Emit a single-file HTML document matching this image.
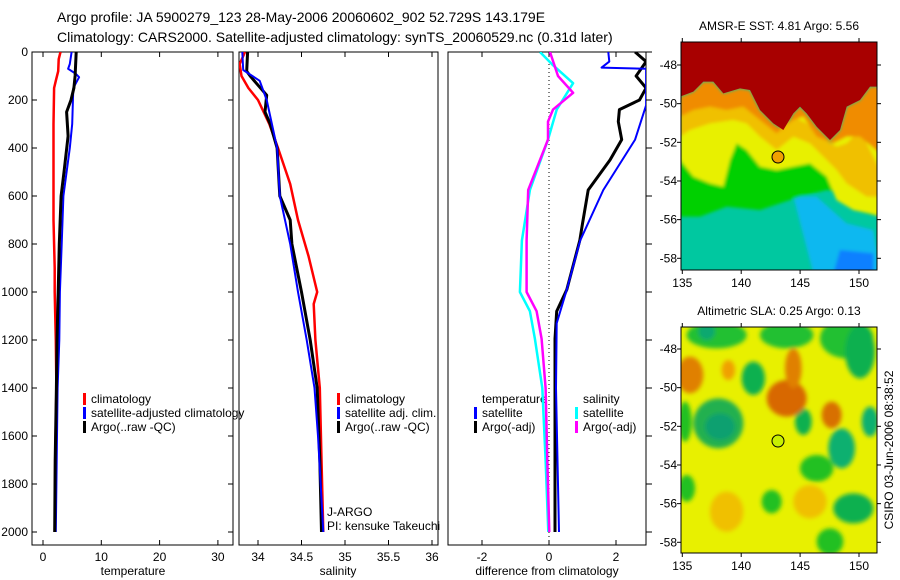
<!DOCTYPE html>
<html><head><meta charset="utf-8"><style>
body{margin:0;background:#fff;}
svg{display:block;font-family:"Liberation Sans",sans-serif;}
</style></head><body>
<svg id="fig" width="900" height="580" viewBox="0 0 900 580" xmlns="http://www.w3.org/2000/svg">
<defs>
<filter id="bl" x="-20%" y="-20%" width="140%" height="140%"><feGaussianBlur stdDeviation="6"/></filter>
<filter id="bl2" x="-5%" y="-5%" width="110%" height="110%"><feGaussianBlur stdDeviation="5"/></filter>
<clipPath id="cm1"><rect x="681" y="42" width="196" height="228"/></clipPath>
<clipPath id="cm2"><rect x="681" y="327" width="196" height="226"/></clipPath>
<clipPath id="cp1"><rect x="32" y="52" width="201" height="493"/></clipPath>
<clipPath id="cp2"><rect x="239" y="52" width="199" height="493"/></clipPath>
<clipPath id="cp3"><rect x="448" y="52" width="198" height="493"/></clipPath>
</defs>
<text x="57" y="22" font-size="14">Argo profile: JA 5900279_123 28-May-2006 20060602_902 52.729S 143.179E</text>
<text x="57" y="42" font-size="14">Climatology: CARS2000. Satellite-adjusted climatology: synTS_20060529.nc (0.31d later)</text>

<!-- SST map -->
<g clip-path="url(#cm1)">
 <g transform="translate(660,10) scale(0.33333)">
  <rect x="60" y="90" width="600" height="700" fill="#00c8a0"/>
  <g filter="url(#bl2)">
  <path d="M400,560 L470,560 L560,640 L640,660 L660,790 L460,790 Z" fill="#10b8f0"/>
  <path d="M540,720 L640,730 L640,790 L520,790Z" fill="#1080ff"/>
  <path d="M60,450 L100,500 L150,520 L190,530 L210,450 L230,400 L260,420 L300,470 L350,480 L400,470 L450,460 L500,500 L530,570 L580,600 L660,620 L660,560 L500,540 L420,560 L300,600 L200,590 L120,620 L60,620Z" fill="#00d000"/>
  <path d="M60,320 L100,300 L150,290 L200,300 L250,290 L300,320 L350,370 L400,320 L430,310 L470,390 L520,400 L560,370 L600,320 L660,420 L660,620 L630,610 L580,600 L530,570 L500,500 L450,460 L400,470 L350,480 L300,470 L260,420 L230,400 L210,450 L190,530 L150,520 L100,500 L60,450Z" fill="#e8f000"/>
  <path d="M60,290 L100,270 L150,250 L200,280 L250,270 L300,320 L350,360 L400,320 L440,340 L480,380 L530,410 L560,400 L600,360 L660,480 L660,560 L620,560 L560,520 L530,480 L490,440 L450,400 L400,380 L350,420 L300,380 L260,340 L220,330 L150,340 L90,360 L60,380Z" fill="#f0c000"/>
  <path d="M60,260 L100,245 L130,215 L160,215 L190,250 L240,235 L270,240 L300,300 L340,340 L370,360 L400,310 L420,290 L440,310 L470,350 L510,390 L540,360 L560,290 L600,270 L630,230 L660,230 L660,430 L600,380 L560,380 L520,400 L470,380 L430,320 L400,330 L350,370 L300,330 L250,290 L200,300 L150,290 L100,300 L60,320Z" fill="#f08c00"/>
  </g>
  <path d="M60,90 L660,90 L660,230 L630,230 L600,270 L560,290 L540,360 L510,390 L470,350 L440,310 L420,290 L400,310 L370,360 L340,340 L300,300 L270,240 L240,235 L190,250 L160,215 L130,215 L100,245 L60,260Z" fill="#a80000"/>
 </g>
</g>
<rect x="681" y="42" width="196" height="228" fill="none" stroke="#000"/>
<circle cx="778" cy="157" r="6" fill="#f0a000" stroke="#000"/>
<text x="779" y="30" font-size="12" text-anchor="middle">AMSR-E SST: 4.81  Argo: 5.56</text>

<!-- SLA map -->
<g clip-path="url(#cm2)">
 <g transform="translate(660,295) scale(0.33333)">
  <rect x="60" y="90" width="600" height="700" fill="#e8f000"/>
  <g filter="url(#bl)">
   <ellipse cx="170" cy="120" rx="90" ry="40" fill="#20c030"/>
   <ellipse cx="380" cy="120" rx="80" ry="40" fill="#20c030"/>
   <ellipse cx="560" cy="130" rx="80" ry="60" fill="#20c030"/>
   <ellipse cx="140" cy="110" rx="25" ry="25" fill="#10a870"/>
   <ellipse cx="175" cy="385" rx="75" ry="75" fill="#20b050"/>
   <ellipse cx="180" cy="395" rx="45" ry="40" fill="#10a070"/>
   <ellipse cx="280" cy="250" rx="35" ry="50" fill="#10b050"/>
   <ellipse cx="430" cy="380" rx="25" ry="40" fill="#10b050"/>
   <ellipse cx="545" cy="460" rx="40" ry="60" fill="#10b070"/>
   <ellipse cx="600" cy="170" rx="45" ry="80" fill="#10b050"/>
   <ellipse cx="630" cy="380" rx="25" ry="45" fill="#10b070"/>
   <ellipse cx="580" cy="640" rx="60" ry="45" fill="#10b050"/>
   <ellipse cx="470" cy="520" rx="50" ry="40" fill="#20c020"/>
   <ellipse cx="335" cy="620" rx="30" ry="35" fill="#20c020"/>
   <ellipse cx="510" cy="740" rx="40" ry="40" fill="#20c020"/>
   <ellipse cx="80" cy="580" rx="25" ry="40" fill="#20c020"/>
   <ellipse cx="75" cy="380" rx="20" ry="60" fill="#20c020"/>
   <ellipse cx="90" cy="240" rx="40" ry="55" fill="#e08000"/>
   <ellipse cx="205" cy="225" rx="20" ry="30" fill="#f0a000"/>
   <ellipse cx="380" cy="310" rx="60" ry="55" fill="#d86800"/>
   <ellipse cx="400" cy="220" rx="25" ry="60" fill="#e08000"/>
   <ellipse cx="515" cy="360" rx="30" ry="40" fill="#d87000"/>
   <ellipse cx="200" cy="650" rx="50" ry="60" fill="#f0c000"/>
   <ellipse cx="450" cy="620" rx="50" ry="50" fill="#f0c000"/>
  </g>
 </g>
</g>
<rect x="681" y="327" width="196" height="226" fill="none" stroke="#000"/>
<circle cx="778" cy="441" r="6" fill="#c8f000" stroke="#000"/>
<text x="779" y="315" font-size="12" text-anchor="middle">Altimetric SLA: 0.25  Argo: 0.13</text>
<text transform="translate(893,450) rotate(-90)" font-size="12" text-anchor="middle">CSIRO 03-Jun-2006 08:38:52</text>

<g id="axes"></g>
<g id="series"></g>
</svg>
<script>
// ---- profile data (depth in dbar) ----
const depthTicks = [0,200,400,600,800,1000,1200,1400,1600,1800,2000];
const tempTicks = [0,10,20,30];
const salTicks = [34,34.5,35,35.5,36];
const salTickLabels = ["34","34.5","35","35.5","36"];
const diffTicks = [-2,0,2];
const mapLatTicks = [-48,-50,-52,-54,-56,-58];
const mapLonTicks = [135,140,145,150];

const tClimDepth = [0,30,80,120,150,300,700,900,1000,1200,1400,1700,2000];
const tClimVal   = [3.0,2.7,2.6,2.2,1.9,1.8,1.8,2.0,2.0,2.2,2.3,2.1,2.0];
const tSatDepth  = [0,50,70,90,105,150,300,400,600,800,1000,1200,1400,1600,1800,2000];
const tSatVal    = [4.9,4.6,4.3,5.6,6.2,5.2,5.0,4.6,3.5,3.2,2.9,2.8,2.5,2.4,2.3,2.2];
const tArgoDepth = [0,100,150,200,250,350,500,600,800,1000,1200,1400,1700,2000];
const tArgoVal   = [5.7,5.5,5.3,4.8,4.05,4.3,3.6,3.1,2.8,2.6,2.4,2.3,2.1,2.0];

const sClimDepth = [0,50,100,150,200,300,400,550,700,850,1000,1050,1200,1400,1700,2000];
const sClimVal   = [33.85,33.79,33.81,33.89,34.0,34.13,34.23,34.37,34.46,34.58,34.68,34.64,34.66,34.71,34.73,34.75];
const sSatDepth  = [0,75,120,200,300,400,600,800,1000,1200,1400,1600,2000];
const sSatVal    = [33.82,33.83,34.02,34.10,34.16,34.22,34.25,34.37,34.46,34.56,34.65,34.69,34.75];
const sArgoDepth = [0,80,100,130,180,250,300,400,600,700,800,1000,1200,1400,1700,2000];
const sArgoVal   = [33.88,33.87,33.91,33.98,34.10,34.08,34.14,34.22,34.25,34.37,34.39,34.50,34.60,34.68,34.71,34.73];

const dSalSatDepth  = [0,55,130,240,365,575,785,1000,1080,1195,1400,1700,2000];
const dSalSatVal    = [-0.27,0.12,0.72,0.23,-0.03,-0.57,-0.81,-0.87,-0.57,-0.42,-0.2,-0.1,-0.02];
const dSalArgoDepth = [0,100,170,240,290,365,575,785,1000,1080,1195,1400,1700,2000];
const dSalArgoVal   = [0.03,0.27,0.72,0.12,-0.03,-0.03,-0.62,-0.67,-0.67,-0.37,-0.22,-0.1,-0.05,0.01];
const dTmpArgoDepth = [0,40,100,150,200,240,290,365,450,575,715,785,990,1080,1195,1400,2000];
const dTmpArgoVal   = [2.57,2.9,2.6,2.9,2.7,2.1,2.07,2.17,1.82,1.17,1.0,0.92,0.53,0.23,0.18,0.18,0.18];
const dTmpSatDepth  = [0,40,65,70,222,365,575,785,990,1130,1400,2000];
const dTmpSatVal    = [1.77,1.8,1.57,2.9,2.9,2.57,1.62,0.93,0.53,0.23,0.21,0.3];

// ---- axis functions ----
const Y0=52, Y1=545, yScale = d => 52 + d*0.24;
const xT = v => 43 + v*5.83;
const xS = v => 258 + (v-34)*87;
const xD = v => 549 + v*33.5;
const NS="http://www.w3.org/2000/svg";
const axes=document.getElementById('axes'), ser=document.getElementById('series');
function mk(tag, attrs, parent, txt){const e=document.createElementNS(NS,tag);for(const k in attrs)e.setAttribute(k,attrs[k]);if(txt!==undefined)e.textContent=txt;parent.appendChild(e);return e;}

const panels=[{x0:32,x1:233,clip:'cp1',name:'temperature-panel'},{x0:239,x1:438,clip:'cp2',name:'salinity-panel'},{x0:448,x1:646,clip:'cp3',name:'difference-panel'}];
panels.forEach(p=>{
  const r=mk('rect',{x:p.x0,y:Y0,width:p.x1-p.x0,height:Y1-Y0,fill:'none',stroke:'#000'},axes);
  
  
});
depthTicks.forEach(d=>{
  const y=yScale(d);
  mk('line',{x1:32,x2:37,y1:y,y2:y,stroke:'#000'},axes);
  mk('line',{x1:228,x2:233,y1:y,y2:y,stroke:'#000'},axes);
  mk('line',{x1:646,x2:652,y1:y,y2:y,stroke:'#000'},axes);
  const t=mk('text',{x:28,y:y+4,'font-size':12,'text-anchor':'end'},axes,String(d));
  
  
});
function xAxis(ticks, labels, fx, name){
  ticks.forEach((v,i)=>{
    const x=fx(v);
    mk('line',{x1:x,x2:x,y1:Y1,y2:Y1-5,stroke:'#000'},axes);
    mk('line',{x1:x,x2:x,y1:Y0,y2:Y0+5,stroke:'#000'},axes);
    const t=mk('text',{x:x,y:Y1+16,'font-size':12,'text-anchor':'middle'},axes,labels[i]);
    
    
  });
}
xAxis(tempTicks,tempTicks.map(String),xT,'temperature');
xAxis(salTicks,salTickLabels,xS,'salinity');
xAxis(diffTicks,diffTicks.map(String),xD,'difference');
[['temperature',133,'temperature-axis-title'],['salinity',338,'salinity-axis-title'],['difference from climatology',547,'difference-axis-title']].forEach(a=>{
  const t=mk('text',{x:a[1],y:575,'font-size':12,'text-anchor':'middle'},axes,a[0]);
  
  
});
const zl=mk('line',{x1:xD(0),x2:xD(0),y1:Y0,y2:Y1,stroke:'#000','stroke-dasharray':'1,3'},axes);



function line(depths, vals, fx, color, w, clip, name){
  const pts=depths.map((d,i)=>fx(vals[i]).toFixed(1)+','+yScale(d).toFixed(1)).join(' ');
  const pl=mk('polyline',{points:pts,fill:'none',stroke:color,'stroke-width':w,'clip-path':'url(#'+clip+')','stroke-linejoin':'round'},ser);
  
  
}
line(tClimDepth,tClimVal,xT,'#f00',2.5,'cp1','temp-climatology-line');
line(tSatDepth,tSatVal,xT,'#00f',2,'cp1','temp-satellite-line');
line(tArgoDepth,tArgoVal,xT,'#000',3,'cp1','temp-argo-line');
line(sClimDepth,sClimVal,xS,'#f00',2.5,'cp2','sal-climatology-line');
line(sArgoDepth,sArgoVal,xS,'#000',3,'cp2','sal-argo-line');
line(sSatDepth,sSatVal,xS,'#00f',2,'cp2','sal-satellite-line');
line(dSalSatDepth,dSalSatVal,xD,'#0ff',2.5,'cp3','sal-diff-satellite-line');
line(dSalArgoDepth,dSalArgoVal,xD,'#f0f',2.5,'cp3','sal-diff-argo-line');
line(dTmpArgoDepth,dTmpArgoVal,xD,'#000',3,'cp3','temp-diff-argo-line');
line(dTmpSatDepth,dTmpSatVal,xD,'#00f',2,'cp3','temp-diff-satellite-line');

function legend(x,y,color,label,name){
  if(color){const b=mk('rect',{x:x,y:y-10,width:3,height:12,fill:color},axes);
  
  }
  const t=mk('text',{x:x+8,y:y,'font-size':12},axes,label);
  
  
}
legend(83,403,'#f00','climatology','legend-temp-climatology');
legend(83,417,'#00f','satellite-adjusted climatology','legend-temp-satellite');
legend(83,431,'#000','Argo(..raw -QC)','legend-temp-argo');
legend(337,403,'#f00','climatology','legend-sal-climatology');
legend(337,417,'#00f','satellite adj. clim.','legend-sal-satellite');
legend(337,431,'#000','Argo(..raw -QC)','legend-sal-argo');
legend(474,403,null,'temperature','legend-diff-temperature-header');
legend(474,417,'#00f','satellite','legend-diff-temp-satellite');
legend(474,431,'#000','Argo(-adj)','legend-diff-temp-argo');
legend(575,403,null,'salinity','legend-diff-salinity-header');
legend(575,417,'#0ff','satellite','legend-diff-sal-satellite');
legend(575,431,'#f0f','Argo(-adj)','legend-diff-sal-argo');
legend(319,516,null,'J-ARGO','program-label');
legend(319,530,null,'PI: kensuke Takeuchi','pi-label');

const latY1 = lat => 65 + (-48-lat)*19.33;
const latY2 = lat => 349 + (-48-lat)*19.33;
const lonX = lon => 682.3 + (lon-135)*11.78;
[[latY1,42,270],[latY2,327,553]].forEach(m=>{
  mapLatTicks.forEach(l=>{
    const y=m[0](l);
    mk('line',{x1:681,x2:677,y1:y,y2:y,stroke:'#000'},axes);
    mk('line',{x1:877,x2:881,y1:y,y2:y,stroke:'#000'},axes);
    const t=mk('text',{x:677,y:y+4,'font-size':12,'text-anchor':'end'},axes,String(l));
    
    
  });
  mapLonTicks.forEach(l=>{
    const x=lonX(l);
    mk('line',{x1:x,x2:x,y1:m[2],y2:m[2]+4,stroke:'#000'},axes);
    mk('line',{x1:x,x2:x,y1:m[1],y2:m[1]-4,stroke:'#000'},axes);
    const t=mk('text',{x:x,y:m[2]+17,'font-size':12,'text-anchor':'middle'},axes,String(l));
    
    
  });
});
</script>
</body></html>
